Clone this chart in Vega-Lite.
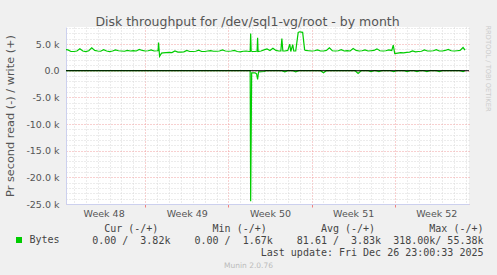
{
 "$schema": "https://vega.github.io/schema/vega-lite/v6.json",
 "width": 403, "height": 177,
 "autosize": {"type": "none"},
 "padding": {"left": 66, "top": 27, "right": 28, "bottom": 71},
 "background": "#f0f0f0",
 "view": {"fill": "#ffffff", "stroke": null},
 "config": {"font": "DejaVu Sans"},
 "title": {"text": "Disk throughput for /dev/sql1-vg/root - by month", "anchor": "middle", "frame": "group", "font": "DejaVu Sans", "fontSize": 12.5, "fontWeight": "normal", "color": "#555555", "baseline": "alphabetic", "offset": -15, "dx": -20},
 "data": {"values": [
  {"t":"2025-11-24T06:00","d":"w","v":4000},{"t":"2025-11-24T12:00","d":"w","v":3900},{"t":"2025-11-24T18:00","d":"w","v":3600},
  {"t":"2025-11-25T00:00","d":"w","v":3600},{"t":"2025-11-25T06:00","d":"w","v":3700},{"t":"2025-11-25T12:00","d":"w","v":4100},{"t":"2025-11-25T18:00","d":"w","v":3700},
  {"t":"2025-11-26T00:00","d":"w","v":3600},{"t":"2025-11-26T06:00","d":"w","v":3750},{"t":"2025-11-26T12:00","d":"w","v":4300},{"t":"2025-11-26T18:00","d":"w","v":3800},
  {"t":"2025-11-27T00:00","d":"w","v":3700},{"t":"2025-11-27T06:00","d":"w","v":3650},{"t":"2025-11-27T12:00","d":"w","v":3950},{"t":"2025-11-27T18:00","d":"w","v":3700},
  {"t":"2025-11-28T00:00","d":"w","v":3600},{"t":"2025-11-28T06:00","d":"w","v":3700},{"t":"2025-11-28T12:00","d":"w","v":3900},{"t":"2025-11-28T18:00","d":"w","v":3750},
  {"t":"2025-11-29T00:00","d":"w","v":3700},{"t":"2025-11-29T06:00","d":"w","v":3650},{"t":"2025-11-29T12:00","d":"w","v":3800},{"t":"2025-11-29T18:00","d":"w","v":3700},
  {"t":"2025-11-30T00:00","d":"w","v":3750},{"t":"2025-11-30T06:00","d":"w","v":3700},{"t":"2025-11-30T12:00","d":"w","v":4000},{"t":"2025-11-30T18:00","d":"w","v":3800},
  {"t":"2025-12-01T00:00","d":"w","v":3700},{"t":"2025-12-01T06:00","d":"w","v":3750},{"t":"2025-12-01T12:00","d":"w","v":3900},{"t":"2025-12-01T18:00","d":"w","v":3700},
  {"t":"2025-12-02T00:00","d":"w","v":3750},{"t":"2025-12-02T02:00","d":"w","v":3800},{"t":"2025-12-02T03:00","d":"w","v":5300},{"t":"2025-12-02T05:00","d":"w","v":2700},{"t":"2025-12-02T09:00","d":"w","v":3300},{"t":"2025-12-02T12:00","d":"w","v":3350},{"t":"2025-12-02T18:00","d":"w","v":3400},
  {"t":"2025-12-03T00:00","d":"w","v":3450},{"t":"2025-12-03T06:00","d":"w","v":3400},{"t":"2025-12-03T12:00","d":"w","v":3700},{"t":"2025-12-03T18:00","d":"w","v":3500},
  {"t":"2025-12-04T00:00","d":"w","v":3500},{"t":"2025-12-04T06:00","d":"w","v":3550},{"t":"2025-12-04T12:00","d":"w","v":3800},{"t":"2025-12-04T18:00","d":"w","v":3600},
  {"t":"2025-12-05T00:00","d":"w","v":3600},{"t":"2025-12-05T06:00","d":"w","v":3650},{"t":"2025-12-05T12:00","d":"w","v":3850},{"t":"2025-12-05T18:00","d":"w","v":3600},
  {"t":"2025-12-06T00:00","d":"w","v":3600},{"t":"2025-12-06T06:00","d":"w","v":3700},{"t":"2025-12-06T12:00","d":"w","v":3750},{"t":"2025-12-06T18:00","d":"w","v":3650},
  {"t":"2025-12-07T00:00","d":"w","v":3650},{"t":"2025-12-07T06:00","d":"w","v":3700},{"t":"2025-12-07T12:00","d":"w","v":3900},{"t":"2025-12-07T18:00","d":"w","v":3700},
  {"t":"2025-12-08T00:00","d":"w","v":3650},{"t":"2025-12-08T06:00","d":"w","v":3700},{"t":"2025-12-08T12:00","d":"w","v":3800},{"t":"2025-12-08T18:00","d":"w","v":3600},
  {"t":"2025-12-09T00:00","d":"w","v":3550},{"t":"2025-12-09T06:00","d":"w","v":3650},{"t":"2025-12-09T12:00","d":"w","v":3700},{"t":"2025-12-09T18:00","d":"w","v":3600},{"t":"2025-12-09T20:00","d":"w","v":3600},{"t":"2025-12-09T21:00","d":"w","v":7000},{"t":"2025-12-09T22:00","d":"w","v":3700},
  {"t":"2025-12-10T00:00","d":"w","v":3600},{"t":"2025-12-10T06:00","d":"w","v":3600},{"t":"2025-12-10T10:00","d":"w","v":3700},{"t":"2025-12-10T11:00","d":"w","v":6200},{"t":"2025-12-10T12:00","d":"w","v":3600},{"t":"2025-12-10T18:00","d":"w","v":3700},
  {"t":"2025-12-11T00:00","d":"w","v":3900},{"t":"2025-12-11T06:00","d":"w","v":4100},{"t":"2025-12-11T12:00","d":"w","v":3800},{"t":"2025-12-11T18:00","d":"w","v":4200},
  {"t":"2025-12-12T00:00","d":"w","v":3800},{"t":"2025-12-12T06:00","d":"w","v":3700},{"t":"2025-12-12T10:00","d":"w","v":3700},{"t":"2025-12-12T12:00","d":"w","v":6050},{"t":"2025-12-12T14:00","d":"w","v":3700},{"t":"2025-12-12T18:00","d":"w","v":3700},
  {"t":"2025-12-13T00:00","d":"w","v":3800},{"t":"2025-12-13T04:00","d":"w","v":5000},{"t":"2025-12-13T06:00","d":"w","v":3600},{"t":"2025-12-13T10:00","d":"w","v":4900},{"t":"2025-12-13T12:00","d":"w","v":3700},{"t":"2025-12-13T16:00","d":"w","v":3700},{"t":"2025-12-13T21:00","d":"w","v":7200},
  {"t":"2025-12-14T00:00","d":"w","v":7300},{"t":"2025-12-14T06:00","d":"w","v":7200},{"t":"2025-12-14T10:00","d":"w","v":3900},{"t":"2025-12-14T12:00","d":"w","v":3800},{"t":"2025-12-14T18:00","d":"w","v":3750},
  {"t":"2025-12-15T00:00","d":"w","v":3700},{"t":"2025-12-15T06:00","d":"w","v":3750},{"t":"2025-12-15T12:00","d":"w","v":3900},{"t":"2025-12-15T18:00","d":"w","v":3700},
  {"t":"2025-12-16T00:00","d":"w","v":3700},{"t":"2025-12-16T06:00","d":"w","v":3800},{"t":"2025-12-16T12:00","d":"w","v":4300},{"t":"2025-12-16T18:00","d":"w","v":3750},
  {"t":"2025-12-17T00:00","d":"w","v":3700},{"t":"2025-12-17T06:00","d":"w","v":3750},{"t":"2025-12-17T12:00","d":"w","v":3950},{"t":"2025-12-17T18:00","d":"w","v":3700},
  {"t":"2025-12-18T00:00","d":"w","v":3750},{"t":"2025-12-18T06:00","d":"w","v":3700},{"t":"2025-12-18T12:00","d":"w","v":4150},{"t":"2025-12-18T18:00","d":"w","v":3800},
  {"t":"2025-12-19T00:00","d":"w","v":3700},{"t":"2025-12-19T06:00","d":"w","v":3750},{"t":"2025-12-19T12:00","d":"w","v":3900},{"t":"2025-12-19T18:00","d":"w","v":3700},
  {"t":"2025-12-20T00:00","d":"w","v":3750},{"t":"2025-12-20T06:00","d":"w","v":3800},{"t":"2025-12-20T12:00","d":"w","v":4100},{"t":"2025-12-20T18:00","d":"w","v":3750},
  {"t":"2025-12-21T00:00","d":"w","v":3700},{"t":"2025-12-21T06:00","d":"w","v":3750},{"t":"2025-12-21T12:00","d":"w","v":3900},{"t":"2025-12-21T18:00","d":"w","v":3800},{"t":"2025-12-21T21:00","d":"w","v":4800},
  {"t":"2025-12-22T00:00","d":"w","v":3200},{"t":"2025-12-22T06:00","d":"w","v":3300},{"t":"2025-12-22T12:00","d":"w","v":3400},{"t":"2025-12-22T18:00","d":"w","v":3350},
  {"t":"2025-12-23T00:00","d":"w","v":3450},{"t":"2025-12-23T06:00","d":"w","v":3500},{"t":"2025-12-23T12:00","d":"w","v":3700},{"t":"2025-12-23T18:00","d":"w","v":3550},
  {"t":"2025-12-24T00:00","d":"w","v":3600},{"t":"2025-12-24T06:00","d":"w","v":3650},{"t":"2025-12-24T12:00","d":"w","v":3900},{"t":"2025-12-24T18:00","d":"w","v":3700},
  {"t":"2025-12-25T00:00","d":"w","v":3700},{"t":"2025-12-25T06:00","d":"w","v":3750},{"t":"2025-12-25T12:00","d":"w","v":3950},{"t":"2025-12-25T18:00","d":"w","v":3700},
  {"t":"2025-12-26T00:00","d":"w","v":3700},{"t":"2025-12-26T06:00","d":"w","v":3800},{"t":"2025-12-26T12:00","d":"w","v":4000},{"t":"2025-12-26T18:00","d":"w","v":3750},
  {"t":"2025-12-27T00:00","d":"w","v":3700},{"t":"2025-12-27T06:00","d":"w","v":3750},{"t":"2025-12-27T12:00","d":"w","v":3800},{"t":"2025-12-27T18:00","d":"w","v":4350},{"t":"2025-12-27T22:00","d":"w","v":3850},
  {"t":"2025-11-24T06:00","d":"r","v":0},{"t":"2025-12-09T20:00","d":"r","v":0},{"t":"2025-12-09T21:00","d":"r","v":-24500},{"t":"2025-12-09T23:00","d":"r","v":-400},
  {"t":"2025-12-10T06:00","d":"r","v":-400},{"t":"2025-12-10T09:00","d":"r","v":-600},{"t":"2025-12-10T11:00","d":"r","v":-1650},{"t":"2025-12-10T13:00","d":"r","v":-200},
  {"t":"2025-12-11T00:00","d":"r","v":-150},{"t":"2025-12-11T04:00","d":"r","v":0},
  {"t":"2025-12-12T12:00","d":"r","v":0},{"t":"2025-12-12T18:00","d":"r","v":-200},{"t":"2025-12-13T00:00","d":"r","v":0},
  {"t":"2025-12-13T10:00","d":"r","v":0},{"t":"2025-12-13T16:00","d":"r","v":-200},{"t":"2025-12-13T22:00","d":"r","v":0},
  {"t":"2025-12-15T18:00","d":"r","v":0},{"t":"2025-12-16T00:00","d":"r","v":-400},{"t":"2025-12-16T06:00","d":"r","v":0},
  {"t":"2025-12-18T16:00","d":"r","v":0},{"t":"2025-12-18T22:00","d":"r","v":-500},{"t":"2025-12-19T04:00","d":"r","v":0},
  {"t":"2025-12-19T18:00","d":"r","v":0},{"t":"2025-12-20T00:00","d":"r","v":-150},{"t":"2025-12-20T06:00","d":"r","v":0},
  {"t":"2025-12-20T10:00","d":"r","v":0},{"t":"2025-12-20T16:00","d":"r","v":-150},{"t":"2025-12-20T22:00","d":"r","v":0},
  {"t":"2025-12-21T16:00","d":"r","v":0},{"t":"2025-12-21T22:00","d":"r","v":-150},{"t":"2025-12-22T04:00","d":"r","v":0},
  {"t":"2025-12-22T19:00","d":"r","v":0},{"t":"2025-12-23T01:00","d":"r","v":-150},{"t":"2025-12-23T07:00","d":"r","v":0},
  {"t":"2025-12-23T15:00","d":"r","v":0},{"t":"2025-12-23T21:00","d":"r","v":-150},{"t":"2025-12-24T03:00","d":"r","v":0},
  {"t":"2025-12-24T11:00","d":"r","v":0},{"t":"2025-12-24T17:00","d":"r","v":-150},{"t":"2025-12-24T23:00","d":"r","v":0},
  {"t":"2025-12-25T12:00","d":"r","v":0},{"t":"2025-12-25T18:00","d":"r","v":-150},{"t":"2025-12-26T00:00","d":"r","v":0},
  {"t":"2025-12-27T12:00","d":"r","v":0},{"t":"2025-12-27T18:00","d":"r","v":-150},{"t":"2025-12-27T22:00","d":"r","v":0}
 ]},
 "resolve": {"axis": {"x": "independent", "y": "independent"}},
 "layer": [
  {
   "mark": {"type": "line", "strokeWidth": 1.2, "clip": true},
   "encoding": {
    "x": {"field": "t", "type": "temporal",
     "scale": {"domain": [{"year": 2025, "month": 11, "date": 24, "hours": 8}, {"year": 2025, "month": 12, "date": 28, "hours": 6}], "nice": false},
     "axis": {
      "orient": "bottom",
      "tickCount": 67,
      "grid": true,
      "gridColor": {"condition": {"test": "day(datum.value)==1 && hours(datum.value)==0", "value": "#f0a0a0"}, "value": "#d8d8d8"},
      "gridOpacity": {"condition": {"test": "hours(datum.value)==0", "value": 1}, "value": 0},
      "gridDash": [1, 2],
      "ticks": true, "tickColor": "#f08080", "tickSize": 3,
      "tickOpacity": {"condition": {"test": "day(datum.value)==1 && hours(datum.value)==0", "value": 1}, "value": 0},
      "domain": true, "domainColor": "#ccd0ee",
      "labelExpr": "day(datum.value)==4 && hours(datum.value)==12 ? 'Week ' + timeFormat(datum.value, '%V') : ''",
      "labelOverlap": false, "labelBound": false, "labelFlush": false,
      "labelFont": "DejaVu Sans", "labelFontSize": 9.5, "labelColor": "#555555", "labelPadding": 9, "labelBaseline": "alphabetic",
      "title": [
       "Cur\u00a0(-/+)\u00a0\u00a0\u00a0\u00a0\u00a0\u00a0\u00a0\u00a0\u00a0Min\u00a0(-/+)\u00a0\u00a0\u00a0\u00a0\u00a0\u00a0\u00a0\u00a0\u00a0Avg\u00a0(-/+)\u00a0\u00a0\u00a0\u00a0\u00a0\u00a0\u00a0\u00a0\u00a0Max\u00a0(-/+)\u00a0",
       "0.00\u00a0/\u00a0\u00a03.82k\u00a0\u00a0\u00a0\u00a00.00\u00a0/\u00a0\u00a01.67k\u00a0\u00a0\u00a0\u00a081.61\u00a0/\u00a0\u00a03.83k\u00a0\u00a0318.00k/\u00a055.38k",
       "Last\u00a0update:\u00a0Fri\u00a0Dec\u00a026\u00a023:00:33\u00a02025"
      ],
      "titleFont": "DejaVu Sans Mono", "titleFontSize": 10, "titleFontWeight": "normal", "titleColor": "#444444",
      "titleX": 417, "titleY": 27, "titleAlign": "right", "titleBaseline": "alphabetic", "titleLineHeight": 12, "titleAngle": 0
     }
    },
    "y": {"field": "v", "type": "quantitative",
     "scale": {"domain": [-25000, 8200], "nice": false, "zero": false},
     "axis": {
      "orient": "left",
      "values": [-25000,-24000,-23000,-22000,-21000,-20000,-19000,-18000,-17000,-16000,-15000,-14000,-13000,-12000,-11000,-10000,-9000,-8000,-7000,-6000,-5000,-4000,-3000,-2000,-1000,0,1000,2000,3000,4000,5000,6000,7000,8000],
      "grid": true,
      "gridColor": {"condition": {"test": "datum.value % 5000 == 0", "value": "#f0a0a0"}, "value": "#d8d8d8"},
      "gridDash": [1, 2],
      "ticks": false, "domain": true, "domainColor": "#ccd0ee",
      "labelExpr": "datum.value % 5000 != 0 ? '' : (datum.value == 0 ? '0.0' : (datum.value < 0 ? '-' : '') + format(abs(datum.value)/1000, '.1f') + ' k')",
      "labelOverlap": false, "labelBound": false, "labelFlush": false,
      "labelFont": "DejaVu Sans", "labelFontSize": 9.5, "labelColor": "#555555", "labelPadding": 7,
      "title": "Pr second read (-) / write (+)", "titleFont": "DejaVu Sans", "titleFontSize": 11.3, "titleFontWeight": "normal", "titleColor": "#555555",
      "titleX": -52.5, "titleY": 88.5, "titleAngle": -90, "titleAlign": "center", "titleBaseline": "alphabetic"
     }
    },
    "detail": {"field": "d"},
    "color": {"datum": "Bytes", "type": "nominal", "scale": {"range": ["#00cc00"]},
     "legend": {"orient": "none", "legendX": -52, "legendY": 208, "title": null, "symbolType": "square", "symbolSize": 36, "symbolFillColor": "#00cc00", "symbolStrokeColor": "#00cc00", "symbolStrokeWidth": 0, "labelFont": "DejaVu Sans Mono", "labelFontSize": 10, "labelColor": "#444444", "labelOffset": 5.5, "padding": 0, "rowPadding": 0}}
   }
  },
  {
   "data": {"values": [{}]},
   "mark": {"type": "rule", "color": "#000000", "strokeWidth": 1},
   "encoding": {"y": {"datum": 0, "type": "quantitative", "scale": {"domain": [-25000, 8200], "nice": false, "zero": false}, "axis": null}}
  },
  {
   "mark": {"type": "line", "opacity": 0},
   "encoding": {
    "x": {"field": "t", "type": "temporal",
     "scale": {"domain": [{"year": 2025, "month": 11, "date": 24, "hours": 8}, {"year": 2025, "month": 12, "date": 28, "hours": 6}], "nice": false},
     "axis": {"orient": "top", "grid": false, "ticks": false, "domain": false, "labels": false, "title": "Munin 2.0.76", "titleFont": "DejaVu Sans", "titleFontSize": 7.5, "titleFontWeight": "normal", "titleColor": "#bbbbbb", "titleX": 182, "titleY": 240, "titleAlign": "center", "titleBaseline": "alphabetic", "titleAngle": 0}},
    "y": {"field": "v", "type": "quantitative",
     "scale": {"domain": [-25000, 8200], "nice": false, "zero": false},
     "axis": {"orient": "right", "grid": false, "ticks": false, "domain": false, "labels": false, "title": "RRDTOOL / TOBI OETIKER", "titleFont": "DejaVu Sans", "titleFontSize": 6.7, "titleFontWeight": "normal", "titleColor": "#cccccc", "titleX": 16, "titleY": 41, "titleAngle": 90, "titleAlign": "center", "titleBaseline": "alphabetic"}},
    "detail": {"field": "d"}
   }
  }
 ]
}
